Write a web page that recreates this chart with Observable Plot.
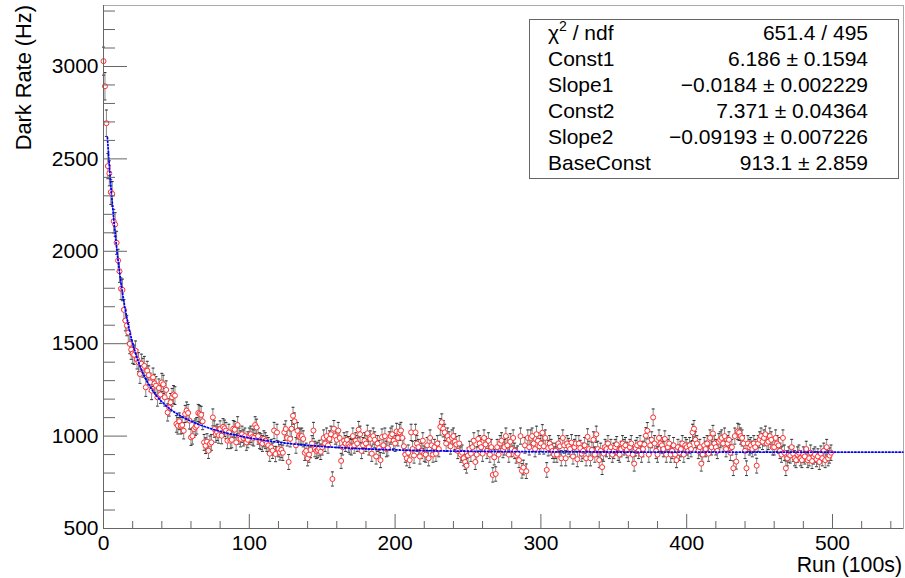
<!DOCTYPE html>
<html><head><meta charset="utf-8">
<script src="https://cdn.jsdelivr.net/npm/d3@7"></script>
<script src="https://cdn.jsdelivr.net/npm/@observablehq/plot@0.6"></script>
<style>body{margin:0;background:#fff;} svg{display:block;}</style>
</head><body><div id="chart"></div>
<script>
// Dark rate (Hz) per run index 0..499
const darkRate = [
3029,2893,2693,2461,2422,2320,2311,2163,2145,2046,
1950,1892,1797,1791,1683,1625,1598,1560,1499,1468,
1446,1440,1462,1415,1400,1336,1392,1370,1380,1264,
1354,1330,1291,1246,1318,1285,1273,1210,1260,1225,
1290,1280,1210,1250,1128,1155,1183,1210,1225,1219,
1066,1056,1080,1056,1060,1029,1120,1138,1125,1084,
993,1000,1038,1048,1056,1125,1120,1115,1080,966,
948,970,921,958,966,1101,1038,1011,1020,1005,
1038,1002,1050,1042,1030,975,1020,975,980,1040,
1035,966,1060,1000,985,1010,990,1000,966,980,
1000,1010,995,990,1060,1047,1000,975,970,960,
985,975,960,950,905,940,921,1030,903,1020,
930,912,925,910,1020,1038,990,860,985,1040,
1110,1080,950,1029,1000,995,1000,985,910,920,
880,900,925,960,1030,930,920,925,935,915,
940,990,960,1000,950,985,1010,768,1040,1000,
980,1030,990,866,940,975,960,980,955,945,
940,1000,950,975,960,1035,1010,920,950,975,
960,1015,940,985,905,1000,980,890,960,935,
870,995,950,1000,930,935,980,1000,1010,975,
960,1025,990,1020,1030,990,945,900,880,910,
870,1020,930,895,1020,960,940,890,920,975,
905,900,950,880,990,950,900,940,905,960,
930,1050,1075,1040,1020,960,1000,980,945,990,
1000,970,955,920,960,900,910,880,860,840,
895,930,905,940,975,860,900,985,960,940,
905,990,955,920,975,900,940,790,885,795,
940,900,960,975,925,940,1000,950,900,970,
930,990,920,895,905,870,1000,812,830,950,
810,990,940,990,1000,960,930,1010,975,945,
960,1018,945,990,817,935,960,940,920,900,
920,900,960,945,880,990,950,880,960,945,
930,965,890,940,960,875,960,935,905,920,
950,880,996,930,880,925,980,900,1010,930,
870,920,832,905,940,930,960,920,940,900,
920,940,955,910,900,930,960,940,950,925,
905,940,960,900,851,935,950,920,960,900,
930,955,1002,1029,900,950,980,1101,960,920,
900,990,960,950,930,985,900,940,960,900,
920,950,900,870,940,910,930,960,900,950,
940,920,950,930,1020,1040,980,960,920,940,
851,900,950,930,960,905,990,940,1014,960,
940,920,970,980,990,960,1000,930,960,980,
910,940,826,1000,862,1025,1020,1000,990,960,
920,826,960,940,950,930,960,940,840,960,
980,1000,970,990,1010,960,970,1000,980,940,
940,990,960,950,920,900,990,910,826,880,
900,895,940,905,880,870,900,910,880,870,
900,890,930,870,880,910,865,890,900,875,
890,860,905,880,920,870,940,880,895,910
];
const runs = darkRate.map((_, i) => i);
// Poisson-like uncertainty scale of the rate
const errScale = 1.9;

// Fit parameters (from stat box)
const const1 = 6.186, slope1 = -0.0184, const2 = 7.371, slope2 = -0.09193, baseConst = 913.1;
const fitRange = [2.7, 548.5];

const statLabels = ["χ2 / ndf", "Const1", "Slope1", "Const2", "Slope2", "BaseConst"];
const statValues = ["651.4 / 495", "6.186 ± 0.1594", "\u22120.0184 ± 0.002229", "7.371 ± 0.04364", "\u22120.09193 ± 0.007226", "913.1 ± 2.859"];

const xMajor = [0, 100, 200, 300, 400, 500];
const xMinor = [20,40,60,80,120,140,160,180,220,240,260,280,320,340,360,380,420,440,460,480,520,540];
const yMajor = [500, 1000, 1500, 2000, 2500, 3000];
const yMinor = [600,700,800,900,1100,1200,1300,1400,1600,1700,1800,1900,2100,2200,2300,2400,2600,2700,2800,2900,3100,3200,3300];
const xTitle = "Run (100s)";
const yTitle = "Dark Rate (Hz)";

const points = runs.map((r, i) => {
  const v = darkRate[i], e = Math.sqrt(errScale * v);
  return {run: r, rate: v, lo: v - e, hi: v + e};
});
const fitX = d3.range(fitRange[0], fitRange[1], 0.5);
const fitCurve = fitX.map(x => ({x, y: baseConst + Math.exp(const1 + slope1 * x) + Math.exp(const2 + slope2 * x)}));

const W = 905, H = 578, mL = 103, mR = 2, mT = 5, mB = 50;
const plotW = W - mL - mR, plotH = H - mT - mB;
const font = "'Liberation Sans', Arial, Helvetica, sans-serif";
const cap = {draw(ctx) { ctx.moveTo(-1.5, 0); ctx.lineTo(1.5, 0); }};
const axisColor = "#666";

const chart = Plot.plot({
  width: W, height: H,
  marginLeft: mL, marginRight: mR, marginTop: mT, marginBottom: mB,
  style: {fontFamily: font, fontSize: "21px", background: "white", overflow: "visible", color: "black"},
  x: {domain: [0, 548.7]},
  y: {domain: [500, 3330]},
  marks: [
    Plot.frame({stroke: "#aaa"}),
    Plot.ruleX(points, {x: "run", y1: "lo", y2: "hi", stroke: "#888", strokeWidth: 1}),
    Plot.dot(points, {x: "run", y: "lo", symbol: cap, stroke: "#333", fill: "none", strokeWidth: 1}),
    Plot.dot(points, {x: "run", y: "hi", symbol: cap, stroke: "#333", fill: "none", strokeWidth: 1}),
    Plot.dot(points, {x: "run", y: "rate", r: 2.5, stroke: "#ff3030", fill: "white", strokeWidth: 1}),
    Plot.line(fitCurve, {x: "x", y: "y", stroke: "#0000ff", strokeWidth: 1.8, strokeDasharray: "1.2,2.2"}),
    Plot.tickY(yMajor, {y: d => d, insetRight: plotW - 24, stroke: axisColor}),
    Plot.tickY(yMinor, {y: d => d, insetRight: plotW - 12, stroke: axisColor}),
    Plot.tickX(xMajor, {x: d => d, insetTop: plotH - 14, stroke: axisColor}),
    Plot.tickX(xMinor, {x: d => d, insetTop: plotH - 7, stroke: axisColor}),
    Plot.ruleX([0], {stroke: axisColor}),
    Plot.ruleY([500], {stroke: axisColor}),
    Plot.axisX(xMajor, {tickSize: 0, tickPadding: 7, label: null, fontSize: 21, tickFormat: d => String(d)}),
    Plot.axisY(yMajor, {tickSize: 0, tickPadding: 5, label: null, fontSize: 21, tickFormat: d => String(d)})
  ]
});
document.getElementById("chart").appendChild(chart);

const svg = d3.select(chart);
const g = svg.append("g").attr("font-family", font).attr("font-size", 21).attr("fill", "black").attr("text-anchor", "start");
g.append("text").attr("x", 902).attr("y", 572).attr("text-anchor", "end").attr("font-size", 21.3).text(xTitle);
g.append("text").attr("transform", "translate(31,5) rotate(-90)").attr("text-anchor", "end").attr("font-size", 21.8).text(yTitle);

const box = g.append("g");
box.append("rect").attr("x", 529.5).attr("y", 19.5).attr("width", 369).attr("height", 159)
  .attr("fill", "white").attr("stroke", "#666");
statLabels.forEach((lab, i) => {
  const y = 40 + 26 * i;
  const t = box.append("text").attr("x", 548).attr("y", y).attr("text-anchor", "start");
  if (i === 0) {
    t.append("tspan").text("χ");
    t.append("tspan").attr("font-size", 14).attr("dy", -9).text("2");
    t.append("tspan").attr("dy", 9).text(" / ndf");
  } else t.text(lab);
  box.append("text").attr("x", 868).attr("y", y).attr("text-anchor", "end").text(statValues[i]);
});
</script>
</body></html>
